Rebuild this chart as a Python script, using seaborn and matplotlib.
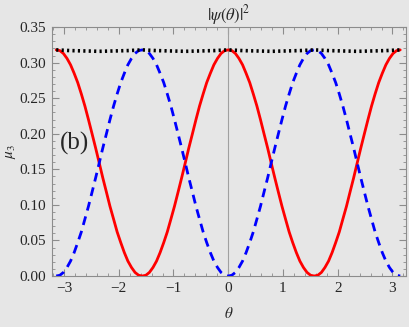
import pandas as pd
import matplotlib.pyplot as plt
import seaborn as sns
from matplotlib.ticker import MultipleLocator

# theta samples (step pi/48) and curve values
theta = [-3.142, -3.076, -3.011, -2.945, -2.880, -2.814, -2.749, -2.683, -2.618, -2.553,
         -2.487, -2.422, -2.356, -2.291, -2.225, -2.160, -2.094, -2.029, -1.963, -1.898,
         -1.833, -1.767, -1.702, -1.636, -1.571, -1.505, -1.440, -1.374, -1.309, -1.244,
         -1.178, -1.113, -1.047, -0.982, -0.916, -0.851, -0.785, -0.720, -0.654, -0.589,
         -0.524, -0.458, -0.393, -0.327, -0.262, -0.196, -0.131, -0.065, 0.000,
         0.065, 0.131, 0.196, 0.262, 0.327, 0.393, 0.458, 0.524, 0.589, 0.654,
         0.720, 0.785, 0.851, 0.916, 0.982, 1.047, 1.113, 1.178, 1.244, 1.309,
         1.374, 1.440, 1.505, 1.571, 1.636, 1.702, 1.767, 1.833, 1.898, 1.963,
         2.029, 2.094, 2.160, 2.225, 2.291, 2.356, 2.422, 2.487, 2.553, 2.618,
         2.683, 2.749, 2.814, 2.880, 2.945, 3.011, 3.076, 3.142]

red = [0.318, 0.317, 0.313, 0.306, 0.297, 0.285, 0.272, 0.256, 0.239, 0.220,
       0.200, 0.180, 0.159, 0.138, 0.118, 0.098, 0.080, 0.062, 0.047, 0.033,
       0.021, 0.012, 0.005, 0.001, 0.000, 0.001, 0.005, 0.012, 0.021, 0.033,
       0.047, 0.062, 0.080, 0.098, 0.118, 0.138, 0.159, 0.180, 0.200, 0.220,
       0.239, 0.256, 0.272, 0.285, 0.297, 0.306, 0.313, 0.317, 0.318,
       0.317, 0.313, 0.306, 0.297, 0.285, 0.272, 0.256, 0.239, 0.220, 0.200,
       0.180, 0.159, 0.138, 0.118, 0.098, 0.080, 0.062, 0.047, 0.033, 0.021,
       0.012, 0.005, 0.001, 0.000, 0.001, 0.005, 0.012, 0.021, 0.033, 0.047,
       0.062, 0.080, 0.098, 0.118, 0.138, 0.159, 0.180, 0.200, 0.220, 0.239,
       0.256, 0.272, 0.285, 0.297, 0.306, 0.313, 0.317, 0.318]

blue = [0.000, 0.001, 0.005, 0.012, 0.021, 0.033, 0.047, 0.062, 0.080, 0.098,
        0.118, 0.138, 0.159, 0.180, 0.200, 0.220, 0.239, 0.256, 0.272, 0.285,
        0.297, 0.306, 0.313, 0.317, 0.318, 0.317, 0.313, 0.306, 0.297, 0.285,
        0.272, 0.256, 0.239, 0.220, 0.200, 0.180, 0.159, 0.138, 0.118, 0.098,
        0.080, 0.062, 0.047, 0.033, 0.021, 0.012, 0.005, 0.001, 0.000,
        0.001, 0.005, 0.012, 0.021, 0.033, 0.047, 0.062, 0.080, 0.098, 0.118,
        0.138, 0.159, 0.180, 0.200, 0.220, 0.239, 0.256, 0.272, 0.285, 0.297,
        0.306, 0.313, 0.317, 0.318, 0.317, 0.313, 0.306, 0.297, 0.285, 0.272,
        0.256, 0.239, 0.220, 0.200, 0.180, 0.159, 0.138, 0.118, 0.098, 0.080,
        0.062, 0.047, 0.033, 0.021, 0.012, 0.005, 0.001, 0.000]

# the nearly flat dotted total, sampled coarser (step pi/12)
theta_sum = [-3.142, -2.880, -2.618, -2.356, -2.094, -1.833, -1.571, -1.309, -1.047,
             -0.785, -0.524, -0.262, 0.000, 0.262, 0.524, 0.785, 1.047, 1.309,
             1.571, 1.833, 2.094, 2.356, 2.618, 2.880, 3.142]
total = [0.318, 0.317, 0.3165, 0.316, 0.3165, 0.317, 0.318, 0.317, 0.3165,
         0.316, 0.3165, 0.317, 0.318, 0.317, 0.3165, 0.316, 0.3165, 0.317,
         0.318, 0.317, 0.3165, 0.316, 0.3165, 0.317, 0.318]

df = pd.DataFrame({'theta': theta, 'red': red, 'blue': blue})
df_sum = pd.DataFrame({'theta': theta_sum, 'total': total})

bg = '#e6e6e6'
sns.set_style('ticks', {'axes.facecolor': bg, 'figure.facecolor': bg,
                        'axes.edgecolor': '#8c8c8c',
                        'xtick.direction': 'in', 'ytick.direction': 'in'})
plt.rcParams['font.family'] = ['Liberation Serif', 'DejaVu Serif']
plt.rcParams['mathtext.fontset'] = 'stix'

fig = plt.figure(figsize=(4.09, 3.27), dpi=100)
ax = fig.add_axes([0.127, 0.156, 0.866, 0.761])

ax.axvline(0, color='#a0a0a0', lw=0.8, zorder=1)
sns.lineplot(data=df, x='theta', y='red', ax=ax, color='#ff0000', lw=2.0, zorder=3)
sns.lineplot(data=df, x='theta', y='blue', ax=ax, color='#0000ff', lw=2.0,
             linestyle=(0, (3.2, 2.2)), zorder=3)
sns.lineplot(data=df_sum, x='theta', y='total', ax=ax, color='black', lw=2.6,
             linestyle=(0, (0.6, 0.9)), zorder=4)

ax.set_xlim(-3.22, 3.25)
ax.set_ylim(0, 0.35)
ax.xaxis.set_major_locator(MultipleLocator(1))
ax.xaxis.set_minor_locator(MultipleLocator(0.2))
ax.yaxis.set_major_locator(MultipleLocator(0.05))
ax.yaxis.set_minor_locator(MultipleLocator(0.01))
ax.yaxis.set_major_formatter(plt.FormatStrFormatter('%.2f'))
ax.xaxis.set_major_formatter(plt.FuncFormatter(lambda v, p: f'{int(v)}'.replace('-', '\u2212')))
ax.tick_params(which='both', top=True, right=True, color='#8c8c8c', labelsize=11, pad=4)
ax.tick_params(which='major', length=5, width=0.8)
ax.tick_params(which='minor', length=2.5, width=0.6)
for s in ax.spines.values():
    s.set_linewidth(0.8)

ax.set_title(r'$|\psi(\theta)|^2$', fontsize=12, pad=3)
ax.set_xlabel(r'$\theta$', fontsize=11, labelpad=8)
ax.set_ylabel(r'$\mu_3$', fontsize=11)
ax.yaxis.set_label_coords(-0.095, 0.5)
ax.text(-3.07, 0.187, '(b)', fontsize=18, va='center', ha='left')

fig.savefig('out.png', dpi=100, facecolor=bg)
